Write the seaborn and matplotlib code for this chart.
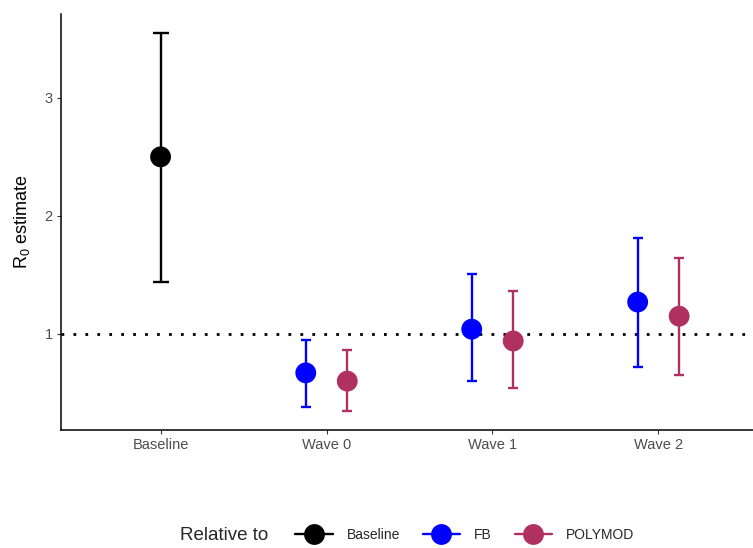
import matplotlib
matplotlib.use("Agg")
import matplotlib.pyplot as plt
from matplotlib.lines import Line2D
import seaborn as sns
import pandas as pd
import numpy as np

categories = ["Baseline", "Wave 0", "Wave 1", "Wave 2"]
groups = ["Baseline", "FB", "FB", "FB", "POLYMOD", "POLYMOD", "POLYMOD"]
group_cat = ["Baseline", "Wave 0", "Wave 1", "Wave 2", "Wave 0", "Wave 1", "Wave 2"]
estimate = [2.50, 0.67, 1.04, 1.27, 0.60, 0.94, 1.15]
lower = [1.44, 0.38, 0.60, 0.72, 0.35, 0.54, 0.65]
upper = [3.55, 0.95, 1.51, 1.81, 0.86, 1.36, 1.64]

palette = {"Baseline": "#000000", "FB": "#0000FF", "POLYMOD": "#B03060"}
offsets = {"Baseline": 0.0, "FB": -0.125, "POLYMOD": 0.125}

df = pd.DataFrame({"group": groups, "cat": group_cat, "est": estimate,
                   "lo": lower, "hi": upper})
df["x"] = [categories.index(c) + offsets[g] for c, g in zip(df["cat"], df["group"])]

sns.set_style("white")
plt.rcParams["font.family"] = ["Liberation Sans", "DejaVu Sans"]
plt.rcParams["mathtext.fontset"] = "custom"
plt.rcParams["mathtext.rm"] = "Liberation Sans"
plt.rcParams["mathtext.it"] = "Liberation Sans"

fig = plt.figure(figsize=(7.53, 5.48), dpi=100)
ax = fig.add_axes([61 / 753, 1 - 430 / 548, 1 - 61 / 753, (430 - 14) / 548])

ax.axhline(1, color="black", lw=2.0, ls=(0, (1, 3.3)), zorder=1)

for _, r in df.iterrows():
    cap = 5.8 if r["group"] == "Baseline" else 3.3
    ax.errorbar(r["x"], r["est"], yerr=[[r["est"] - r["lo"]], [r["hi"] - r["est"]]],
                fmt="none", ecolor=palette[r["group"]], elinewidth=1.7,
                capsize=cap, capthick=1.7, zorder=2)

sns.scatterplot(data=df, x="x", y="est", hue="group", palette=palette,
                s=15 ** 2, edgecolor="none", legend=False, ax=ax, zorder=3)

ax.set_xlim(-0.6, 3.57)
ax.set_ylim(0.186, 3.71)
ax.set_xticks(range(len(categories)))
ax.set_xticklabels(categories)
ax.set_yticks([1, 2, 3])
ax.set_yticklabels(["1", "2", "3"])
ax.set_xlabel("")
ax.set_ylabel(r"$\mathregular{R_0}$ estimate", fontsize=13, color="black", labelpad=9)
ax.tick_params(axis="both", which="both", direction="out", length=3, width=0.8,
               color="#333333", labelcolor="#4D4D4D", labelsize=10.5, pad=3)
ax.tick_params(bottom=True, left=True)
for s in ["top", "right"]:
    ax.spines[s].set_visible(False)
for s in ["left", "bottom"]:
    ax.spines[s].set_color("black")
    ax.spines[s].set_linewidth(1.1)

handles = [Line2D([0], [0], color=palette[g], lw=1.7, marker="o", markersize=15,
                  markeredgewidth=0) for g in ["Baseline", "FB", "POLYMOD"]]
fig.text(180 / 753, 1 - 535 / 548, "Relative to", fontsize=13.5, va="center", ha="left")
leg = fig.legend(handles, ["Baseline", "FB", "POLYMOD"], ncol=3, frameon=False,
                 loc="center left", bbox_to_anchor=(295 / 753, 1 - 535 / 548),
                 fontsize=10, handlelength=2.7, handletextpad=1.0,
                 columnspacing=1.65, borderaxespad=0, borderpad=0)

fig.savefig("out.png", dpi=100)
